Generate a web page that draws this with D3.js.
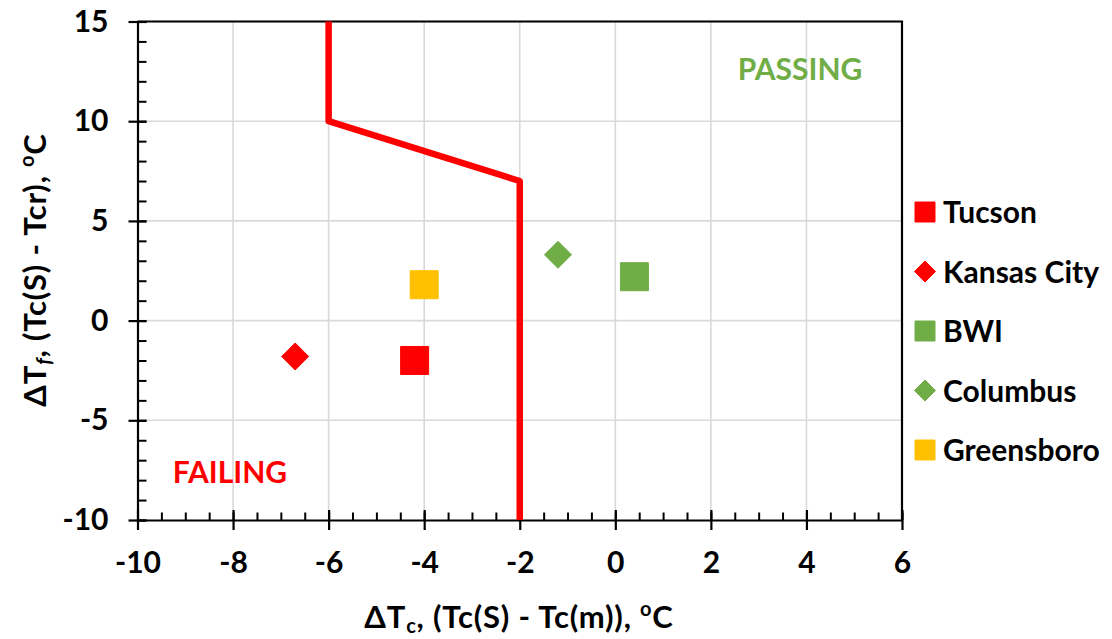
<!DOCTYPE html>
<html>
<head>
<meta charset="utf-8">
<script src="https://cdn.jsdelivr.net/npm/d3@7"></script>
<style>
  html, body { margin: 0; padding: 0; background: #fff; }
  svg { display: block; }
  text { font-family: Lato, "Liberation Sans", sans-serif; font-weight: bold; fill: #000; }
</style>
</head>
<body>
<svg id="chart" width="1112" height="639"></svg>
<script>
// Site data: temperature differences (°C)
const sites   = ["Tucson", "Kansas City", "BWI", "Columbus", "Greensboro"];
const dTc     = [-4.2, -6.7, 0.4, -1.2, -4.0];
const dTf     = [-2.0, -1.8, 2.2, 3.3, 1.8];
const shapes  = ["square", "diamond", "square", "diamond", "square"];
const colors  = ["#ff0000", "#ff0000", "#70ad47", "#70ad47", "#ffc000"];

// Pass/fail boundary
const limitX = [-6, -6, -2, -2];
const limitY = [15, 10, 7, -10];

// Axis ticks
const xTicks = [-10, -8, -6, -4, -2, 0, 2, 4, 6];
const yTicks = [-10, -5, 0, 5, 10, 15];
const xMinor = d3.range(-10, 6.01, 0.5);
const yMinor = d3.range(-10, 15.01, 1);

const svg = d3.select("#chart");
const L = 137.5, R = 902, T = 21.5, B = 520;
const FONT = "Lato, 'Liberation Sans', sans-serif";

const x = d3.scaleLinear().domain([-10, 6]).range([L, R]);
const y = d3.scaleLinear().domain([-10, 15]).range([B, T]);
const plain = d => String(d);   // hyphen-minus for negatives

// Gridlines
const grid = svg.append("g").attr("stroke", "#d9d9d9").attr("stroke-width", 1.6);
grid.selectAll("line.v").data(xTicks.slice(1)).join("line")
  .attr("x1", d => x(d)).attr("x2", d => x(d)).attr("y1", T).attr("y2", B);
grid.selectAll("line.h").data(yTicks.slice(1)).join("line")
  .attr("y1", d => y(d)).attr("y2", d => y(d)).attr("x1", L).attr("x2", R);

// Frame: top and right edges
svg.append("path")
  .attr("d", `M${L},${T}H${R}V${B}`)
  .attr("fill", "none").attr("stroke", "#000").attr("stroke-width", 2.2);

// Minor ticks (inward)
svg.append("g").attr("transform", `translate(0,${B})`)
  .call(d3.axisTop(x).tickValues(xMinor).tickSize(7.5).tickFormat(""))
  .call(g => g.select(".domain").remove())
  .selectAll("line").attr("stroke", "#000").attr("stroke-width", 2);
svg.append("g").attr("transform", `translate(${L},0)`)
  .call(d3.axisRight(y).tickValues(yMinor).tickSize(9).tickFormat(""))
  .call(g => g.select(".domain").remove())
  .selectAll("line").attr("stroke", "#000").attr("stroke-width", 2);

// X axis
const xAxis = svg.append("g").attr("transform", `translate(0,${B})`)
  .call(d3.axisBottom(x).tickValues(xTicks).tickFormat(plain)
    .tickSize(10).tickSizeOuter(0).tickPadding(22));
xAxis.select(".domain").attr("stroke", "#000").attr("stroke-width", 2.2);
xAxis.selectAll(".tick line").attr("y1", -10).attr("stroke", "#000").attr("stroke-width", 2.2);
xAxis.selectAll(".tick text").attr("font-size", 30).attr("fill", "#000")
  .attr("font-family", FONT).attr("font-weight", "bold");

// Y axis
const yAxis = svg.append("g").attr("transform", `translate(${L},0)`)
  .call(d3.axisLeft(y).tickValues(yTicks).tickFormat(plain)
    .tickSize(9).tickSizeOuter(0).tickPadding(20));
yAxis.select(".domain").attr("stroke", "#000").attr("stroke-width", 2.2);
yAxis.selectAll(".tick line").attr("x1", 9).attr("stroke", "#000").attr("stroke-width", 2.2);
yAxis.selectAll(".tick text").attr("font-size", 30).attr("fill", "#000")
  .attr("font-family", FONT).attr("font-weight", "bold");

// Boundary line
svg.append("path")
  .datum(d3.zip(limitX, limitY))
  .attr("d", d3.line().x(d => x(d[0])).y(d => y(d[1])))
  .attr("fill", "none").attr("stroke", "#ff0000").attr("stroke-width", 6.5)
  .attr("stroke-linejoin", "round");

// Markers
const sqSize = 28, diaDiag = 27;
function markerPath(shape, s) {
  const h = s / 2;
  if (shape === "square") return `M${-h},${-h}H${h}V${h}H${-h}Z`;
  return `M0,${-h}L${h},0L0,${h}L${-h},0Z`;
}
svg.append("g").selectAll("path").data(sites).join("path")
  .attr("transform", (d, i) => `translate(${x(dTc[i])},${y(dTf[i])})`)
  .attr("d", (d, i) => markerPath(shapes[i], shapes[i] === "square" ? sqSize : diaDiag))
  .attr("fill", (d, i) => colors[i])
  .attr("stroke", (d, i) => colors[i]).attr("stroke-width", 1).attr("stroke-linejoin", "round");

// Region labels
svg.append("text").attr("x", 800).attr("y", 80).attr("text-anchor", "middle")
  .attr("font-size", 30).style("fill", "#70ad47").text("PASSING");
svg.append("text").attr("x", 230).attr("y", 483).attr("text-anchor", "middle")
  .attr("font-size", 30).style("fill", "#ff0000").text("FAILING");

// Legend
const leg = svg.append("g");
const legY0 = 212, legDy = 59.5;
sites.forEach((s, i) => {
  const cy = legY0 + i * legDy;
  leg.append("path")
    .attr("transform", `translate(925,${cy})`)
    .attr("d", markerPath(shapes[i], shapes[i] === "square" ? 20 : 21))
    .attr("fill", colors[i]).attr("stroke", colors[i]).attr("stroke-width", 1)
    .attr("stroke-linejoin", "round");
  leg.append("text").attr("x", 943).attr("y", cy + 11)
    .attr("font-size", 30).text(s);
});

// Axis titles
const xt = svg.append("text").attr("x", 519).attr("y", 628)
  .attr("text-anchor", "middle").attr("font-size", 31).attr("letter-spacing", 0.8);
xt.append("tspan").text("\u0394T");
xt.append("tspan").attr("font-size", 20).attr("dy", 5).text("c");
xt.append("tspan").attr("dy", -5).text(", (Tc(S) - Tc(m)), ");
xt.append("tspan").attr("font-size", 20).attr("dy", -12).text("o");
xt.append("tspan").attr("dy", 12).text("C");

const yt = svg.append("text")
  .attr("transform", "translate(46,270) rotate(-90)")
  .attr("text-anchor", "middle").attr("font-size", 31).attr("letter-spacing", 0.8);
yt.append("tspan").text("\u0394T");
yt.append("tspan").attr("font-size", 20).attr("dy", 5).attr("font-style", "italic").text("f");
yt.append("tspan").attr("dy", -5).text(", (Tc(S) - Tcr), ");
yt.append("tspan").attr("font-size", 20).attr("dy", -12).text("o");
yt.append("tspan").attr("dy", 12).text("C");
</script>
</body>
</html>
